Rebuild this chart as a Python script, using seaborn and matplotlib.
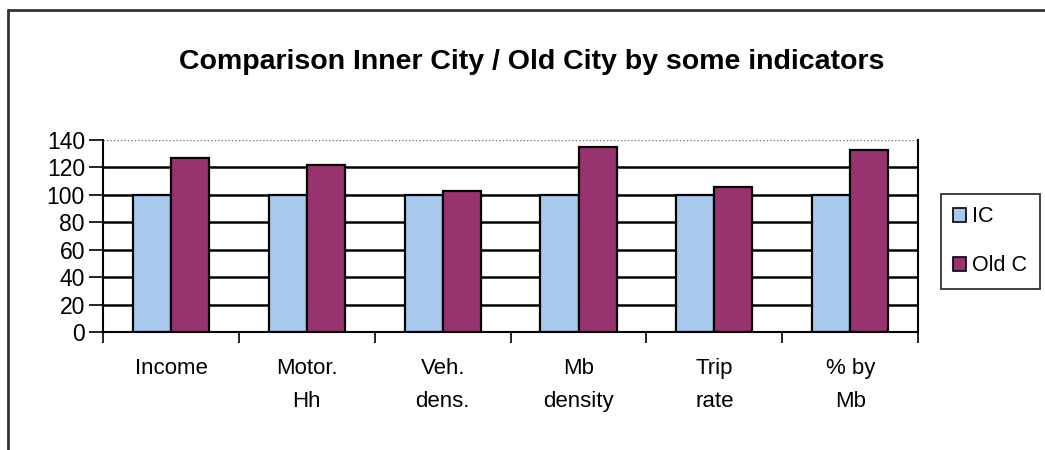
import matplotlib
matplotlib.use("Agg")
import matplotlib.pyplot as plt
from matplotlib.lines import Line2D
from matplotlib.patches import Patch
import seaborn as sns
import pandas as pd

categories = ["Income", "Motor.\nHh", "Veh.\ndens.", "Mb\ndensity", "Trip\nrate", "% by\nMb"]
ic_values = [100, 100, 100, 100, 100, 100]
oldc_values = [127, 122, 103, 135, 106, 133]
series_names = ["IC", "Old C"]
yticks = [0, 20, 40, 60, 80, 100, 120, 140]

colors = {"IC": "#a8c8ee", "Old C": "#98336f"}

df = pd.DataFrame({
    "indicator": categories * 2,
    "value": ic_values + oldc_values,
    "series": [series_names[0]] * len(categories) + [series_names[1]] * len(categories),
})

sns.set_theme(style="white")
plt.rcParams["font.family"] = ["Liberation Sans", "DejaVu Sans"]
plt.rcParams["text.color"] = "black"
plt.rcParams["xtick.color"] = "black"
plt.rcParams["ytick.color"] = "black"

fig = plt.figure(figsize=(10.45, 4.5), dpi=100)
ax = fig.add_axes([0.0986, 0.262, 0.780, 0.427])

# horizontal gridlines drawn beneath the bars
for v in yticks[1:-1]:
    ax.axhline(v, color="black", lw=1.8, zorder=0)
ax.axhline(140, color="#777777", lw=1.0, ls=(0, (1, 1.5)), zorder=0)

sns.barplot(data=df, x="indicator", y="value", hue="series", order=categories,
            hue_order=series_names, palette=colors, width=0.56, gap=0,
            edgecolor="black", linewidth=1.6, saturation=1, ax=ax, zorder=2,
            legend=False)

ax.set_xlim(-0.5, len(categories) - 0.5)
ax.set_ylim(0, 140)
ax.set_yticks(yticks)
ax.set_yticklabels([str(v) for v in yticks], fontsize=16.5)
ax.set_xlabel("")
ax.set_ylabel("")

# category separators below the axis
ax.set_xticks([i - 0.5 for i in range(len(categories) + 1)])
ax.set_xticklabels([])
ax.set_xticks(range(len(categories)), minor=True)
ax.set_xticklabels(categories, minor=True, fontsize=16, linespacing=1.75)
ax.tick_params(axis="x", which="major", direction="out", length=8, width=1.2, color="black", bottom=True)
ax.tick_params(axis="x", which="minor", length=0, pad=19)
ax.tick_params(axis="y", direction="out", length=10, width=1.2, color="black", left=True, pad=3)

for side in ["left", "bottom", "right"]:
    ax.spines[side].set_visible(True)
    ax.spines[side].set_color("black")
    ax.spines[side].set_linewidth(1.5)
ax.spines["top"].set_visible(False)
ax.set_facecolor("white")

fig.text(0.509, 0.862, "Comparison Inner City / Old City by some indicators",
         ha="center", va="center", fontsize=20.5, fontweight="bold")

handles = [Patch(facecolor=colors[s], edgecolor="black", linewidth=1.2) for s in series_names]
leg = fig.legend(handles, series_names, loc="upper left", bbox_to_anchor=(0.9, 0.57),
                 frameon=True, fontsize=15.5, handlelength=0.6, handleheight=0.6,
                 handletextpad=0.25, labelspacing=1.3, borderpad=0.6,
                 borderaxespad=0, fancybox=False)
leg.get_frame().set_edgecolor("black")
leg.get_frame().set_linewidth(1.3)

# outer chart frame
fig.add_artist(Line2D([0.008, 0.008], [0.0, 0.978], color="#333333", lw=2.0))
fig.add_artist(Line2D([0.008, 1.0], [0.978, 0.978], color="#333333", lw=2.0))

fig.savefig("out.png", dpi=100, facecolor="white")
